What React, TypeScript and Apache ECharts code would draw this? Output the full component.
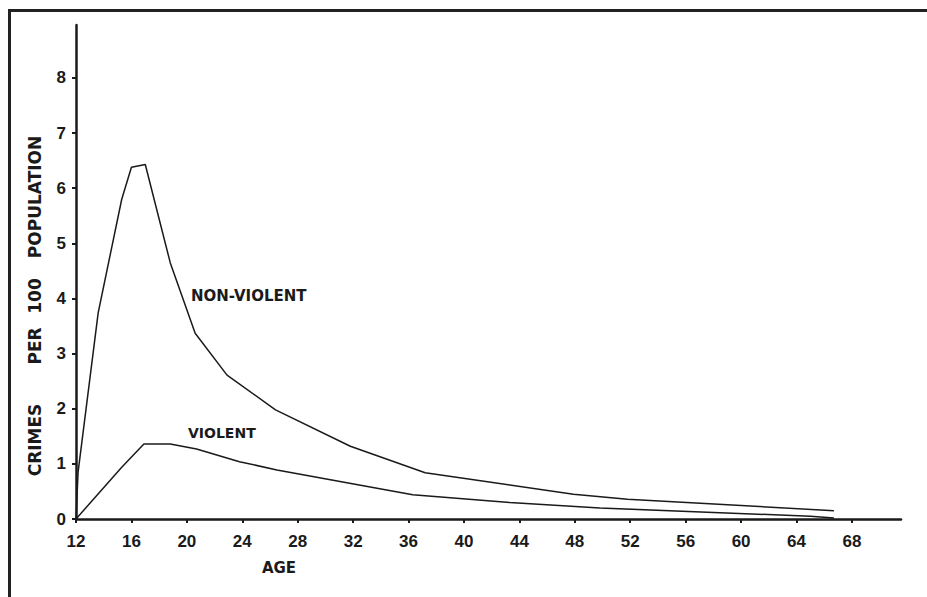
import React, { useEffect, useRef } from "react";
import * as echarts from "echarts";

const xTicks = [12, 16, 20, 24, 28, 32, 36, 40, 44, 48, 52, 56, 60, 64, 68];
const yTicks = [0, 1, 2, 3, 4, 5, 6, 7, 8];

const nonViolentAge = [12.0, 12.15, 13.6, 15.3, 16.0, 17.0, 18.8, 20.6, 22.9, 26.4, 31.8, 37.2, 47.9, 51.8, 66.7];
const nonViolentRate = [0.0, 0.85, 3.74, 5.8, 6.38, 6.43, 4.65, 3.37, 2.61, 1.98, 1.32, 0.84, 0.45, 0.36, 0.15];

const violentAge = [12.0, 15.3, 16.9, 18.8, 20.7, 23.8, 26.5, 36.3, 43.3, 49.8, 65.0, 66.7];
const violentRate = [0.0, 0.94, 1.36, 1.36, 1.27, 1.04, 0.89, 0.44, 0.3, 0.2, 0.05, 0.02];

const yNameWords = ["CRIMES", "PER", "100", "POPULATION"];
const xName = "AGE";
const seriesNames = ["NON-VIOLENT", "VIOLENT"];

const INK = "#1a1a1a";
const TICK_FONT = "'Liberation Sans', Arial, sans-serif";
const LABEL_FONT = "'DejaVu Sans', sans-serif";

export default function App() {
  const ref = useRef<HTMLDivElement>(null);
  useEffect(() => {
    if (!ref.current) return;
    const chart = echarts.init(ref.current, undefined, { renderer: "svg" });
    const pairs = (xs: number[], ys: number[]) => xs.map((x, i) => [x, ys[i]]);
    const wordCenters = [440, 346, 296, 197];
    chart.setOption({
      animation: false,
      backgroundColor: "#ffffff",
      grid: { left: 76, top: 25, right: 26, bottom: 78, containLabel: false },
      xAxis: {
        type: "value",
        min: 12,
        max: 71.54,
        interval: 4,
        axisLine: { show: true, onZero: false, lineStyle: { color: INK, width: 2.5 } },
        axisTick: { show: true, length: 4, inside: false, customValues: xTicks, lineStyle: { color: INK, width: 2 } },
        axisLabel: {
          customValues: xTicks,
          margin: 14,
          color: INK,
          fontSize: 17,
          fontWeight: "bold",
          fontFamily: TICK_FONT,
        },
        splitLine: { show: false },
      },
      yAxis: {
        type: "value",
        min: 0,
        max: 8.96,
        interval: 1,
        axisLine: { show: true, onZero: false, lineStyle: { color: INK, width: 2.5 } },
        axisTick: { show: true, length: 4, inside: false, customValues: yTicks, lineStyle: { color: INK, width: 2 } },
        axisLabel: {
          customValues: yTicks,
          margin: 10,
          color: INK,
          fontSize: 17,
          fontWeight: "bold",
          fontFamily: TICK_FONT,
        },
        splitLine: { show: false },
      },
      series: [
        {
          name: seriesNames[0],
          type: "line",
          data: pairs(nonViolentAge, nonViolentRate),
          showSymbol: false,
          lineStyle: { color: INK, width: 1.5 },
        },
        {
          name: seriesNames[1],
          type: "line",
          data: pairs(violentAge, violentRate),
          showSymbol: false,
          lineStyle: { color: INK, width: 1.5 },
        },
      ],
      graphic: [
        { type: "line", shape: { x1: 8, y1: 10.5, x2: 927, y2: 10.5 }, style: { stroke: "#222", lineWidth: 3 } },
        { type: "line", shape: { x1: 9.5, y1: 9, x2: 9.5, y2: 597 }, style: { stroke: "#222", lineWidth: 3 } },
        ...yNameWords.map((w, i) => ({
          type: "text",
          x: 35,
          y: wordCenters[i],
          rotation: Math.PI / 2,
          style: {
            text: w,
            fill: INK,
            font: `bold 17px ${LABEL_FONT}`,
            align: "center",
            verticalAlign: "middle",
          },
        })),
        {
          type: "text",
          x: 279,
          y: 568,
          style: { text: xName, fill: INK, font: `bold 15px ${LABEL_FONT}`, align: "center", verticalAlign: "middle" },
        },
        {
          type: "text",
          x: 191,
          y: 296,
          style: { text: seriesNames[0], fill: INK, font: `bold 15px ${LABEL_FONT}`, align: "left", verticalAlign: "middle" },
        },
        {
          type: "text",
          x: 188,
          y: 433,
          style: { text: seriesNames[1], fill: INK, font: `bold 14px ${LABEL_FONT}`, align: "left", verticalAlign: "middle" },
        },
      ],
    });
    return () => chart.dispose();
  }, []);
  return (
    <div
      ref={ref}
      style={{ position: "fixed", left: 0, top: 0, width: 927, height: 597, background: "#fff" }}
    />
  );
}
